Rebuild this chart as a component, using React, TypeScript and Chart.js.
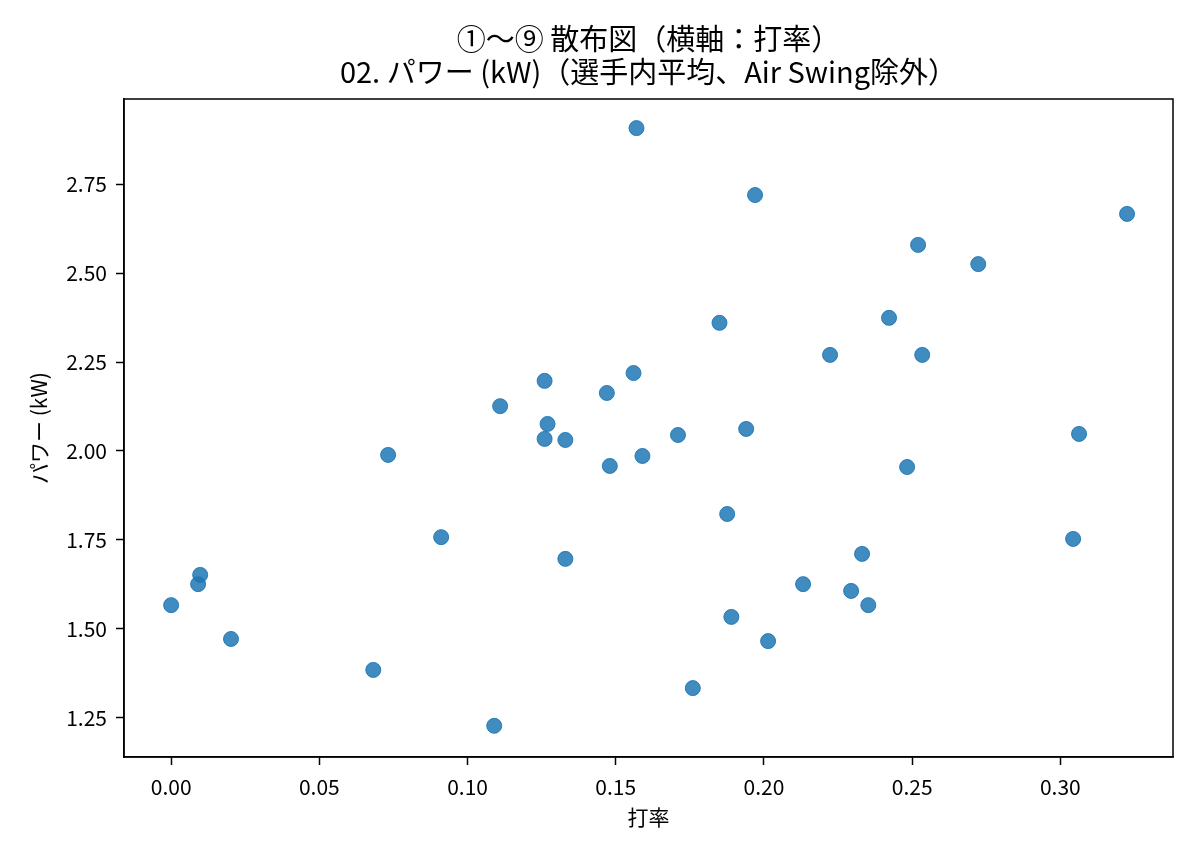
import { useEffect, useRef } from "react"
import { Chart, registerables } from "chart.js"

Chart.register(...registerables)

// 打率 (x) と パワー (y)、選手ごと
const battingAvg = [
  0.0, 0.0091, 0.0098, 0.0202, 0.0682, 0.0732, 0.0911, 0.109, 0.111, 0.126,
  0.127, 0.126, 0.133, 0.133, 0.147, 0.148, 0.156, 0.157, 0.159, 0.171,
  0.176, 0.185, 0.1876, 0.189, 0.194, 0.197, 0.2014, 0.2132, 0.2223, 0.2294,
  0.2331, 0.2352, 0.2422, 0.2483, 0.252, 0.2534, 0.2723, 0.3043, 0.3063, 0.3225
]
const powerKw = [
  1.567, 1.626, 1.652, 1.472, 1.385, 1.989, 1.758, 1.228, 2.126, 2.197,
  2.076, 2.034, 2.031, 1.697, 2.163, 1.958, 2.219, 2.907, 1.986, 2.045,
  1.334, 2.36, 1.823, 1.534, 2.062, 2.719, 1.466, 1.626, 2.27, 1.607,
  1.711, 1.567, 2.374, 1.955, 2.579, 2.27, 2.525, 1.753, 2.048, 2.666
]
const xTicks = [0.0, 0.05, 0.1, 0.15, 0.2, 0.25, 0.3]
const yTicks = [1.25, 1.5, 1.75, 2.0, 2.25, 2.5, 2.75]

const titleLines = ["①〜⑨ 散布図（横軸：打率）", "02. パワー (kW)（選手内平均、Air Swing除外）"]
const FONT = "'Noto Sans CJK JP', 'Noto Sans', sans-serif"

// matplotlib 風の枠線と、プロット領域の中央に置くタイトル
const frame = {
  id: "frame",
  afterDraw(chart: any) {
    const { ctx, chartArea: a } = chart
    ctx.save()
    ctx.strokeStyle = "#000"
    ctx.lineWidth = 1.5
    ctx.strokeRect(a.left, a.top, a.right - a.left, a.bottom - a.top)
    ctx.fillStyle = "#000"
    ctx.font = `29px ${FONT}`
    ctx.textAlign = "center"
    ctx.textBaseline = "middle"
    const cx = (a.left + a.right) / 2
    titleLines.forEach((t, i) => ctx.fillText(t, cx, 39 + i * 33))
    ctx.restore()
  }
}

export default function App() {
  const chartRef = useRef<HTMLCanvasElement>(null)
  const chartInstance = useRef<Chart | null>(null)

  useEffect(() => {
    document.body.style.margin = "0"
    if (chartRef.current) {
      if (chartInstance.current) chartInstance.current.destroy()
      Chart.defaults.color = "#000"
      chartInstance.current = new Chart(chartRef.current, {
        type: "scatter",
        data: {
          datasets: [
            {
              label: "パワー",
              data: battingAvg.map((x, i) => ({ x, y: powerKw[i] })),
              backgroundColor: "rgba(31,119,180,0.85)",
              borderColor: "rgba(31,119,180,0.9)",
              borderWidth: 1,
              pointRadius: 7.5,
              pointHoverRadius: 7.5
            }
          ]
        },
        options: {
          responsive: false,
          animation: false,
          devicePixelRatio: 1,
          layout: { padding: { left: 0, right: 27, top: 99, bottom: 0 } },
          plugins: {
            legend: { display: false },
            tooltip: { enabled: false },
            title: { display: false }
          },
          scales: {
            x: {
              type: "linear",
              min: -0.0159,
              max: 0.338,
              afterBuildTicks: (s: any) => { s.ticks = xTicks.map((v) => ({ value: v })) },
              afterFit: (s: any) => { s.height = 100 },
              ticks: {
                color: "#000",
                font: { family: FONT, size: 21 },
                padding: 9,
                maxRotation: 0,
                callback: (v: any) => Number(v).toFixed(2)
              },
              grid: { drawOnChartArea: false, drawTicks: true, tickLength: 8, tickColor: "#000", tickWidth: 1.5 },
              border: { display: true, color: "#000", width: 1.5 },
              title: {
                display: true,
                text: "打率",
                color: "#000",
                font: { family: FONT, size: 21 },
                padding: { top: 0, bottom: 27 }
              }
            },
            y: {
              type: "linear",
              min: 1.1404,
              max: 2.9888,
              afterBuildTicks: (s: any) => { s.ticks = yTicks.map((v) => ({ value: v })) },
              afterFit: (s: any) => { s.width = 124 },
              ticks: {
                color: "#000",
                font: { family: FONT, size: 21 },
                padding: 9,
                callback: (v: any) => Number(v).toFixed(2)
              },
              grid: { drawOnChartArea: false, drawTicks: true, tickLength: 8, tickColor: "#000", tickWidth: 1.5 },
              border: { display: true, color: "#000", width: 1.5 },
              title: {
                display: true,
                text: "パワー (kW)",
                color: "#000",
                font: { family: FONT, size: 21 },
                padding: { top: 26, bottom: 0 }
              }
            }
          }
        } as any,
        plugins: [frame]
      })
    }
    return () => { if (chartInstance.current) chartInstance.current.destroy() }
  }, [])

  return (
    <div style={{ width: 1200, height: 857, background: "#fff" }}>
      <canvas ref={chartRef} width={1200} height={857} style={{ width: 1200, height: 857 }} />
    </div>
  )
}
